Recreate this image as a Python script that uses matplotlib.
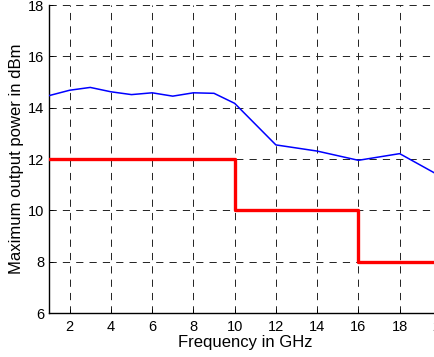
import matplotlib
matplotlib.use("Agg")
import matplotlib.pyplot as plt

plt.rcParams['font.family'] = ['Liberation Sans', 'DejaVu Sans']
plt.rcParams['font.size'] = 10
plt.rcParams['lines.scale_dashes'] = False

# measured output power
freq = [1, 2, 3, 4, 5, 6, 7, 8, 9, 10, 12, 14, 16, 18, 20]
power = [14.47, 14.68, 14.79, 14.62, 14.51, 14.58, 14.45, 14.58, 14.56,
         14.17, 12.55, 12.31, 11.95, 12.21, 11.32]

# specification limit (step)
spec_freq = [1, 10, 10, 16, 16, 20]
spec_power = [12, 12, 10, 10, 8, 8]

xticks = [2, 4, 6, 8, 10, 12, 14, 16, 18, 20]
yticks = [6, 8, 10, 12, 14, 16, 18]

fig = plt.figure(figsize=(4.34, 3.57), dpi=100)
ax = fig.add_axes([0.1129, 0.1232, 0.903, 0.8627])

ax.plot(freq, power, color='#0000ff', lw=1.1, zorder=3)
ax.plot(spec_freq, spec_power, color='#ff0000', lw=2.4, zorder=3)

ax.set_xlim(1, 20)
ax.set_ylim(6, 18)
ax.set_xticks(xticks)
ax.set_yticks(yticks)

ax.grid(True, color='#222222', lw=0.7, linestyle=(0, (5.2, 4.4)))
ax.tick_params(direction='in', length=3, width=0.7, colors='black', labelsize=10.5)
ax.tick_params(axis='x', pad=5)

ax.spines['top'].set_visible(False)
ax.spines['right'].set_visible(False)
ax.spines['left'].set_linewidth(1.0)
ax.spines['bottom'].set_linewidth(1.0)

ax.set_xlabel('Frequency in GHz', fontsize=12, labelpad=1)
ax.set_ylabel('Maximum output power in dBm', fontsize=12, labelpad=3)

fig.savefig('out.png', dpi=100)
